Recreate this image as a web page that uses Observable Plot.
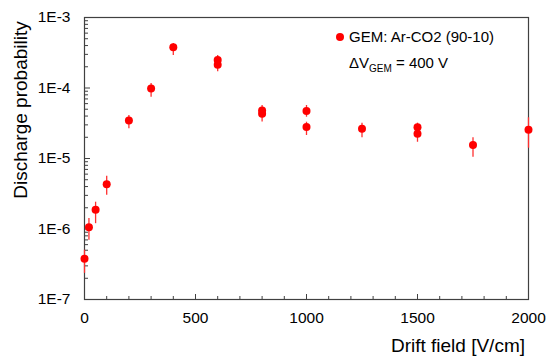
<!DOCTYPE html>
<html>
<head>
<meta charset="utf-8">
<script src="https://cdn.jsdelivr.net/npm/d3@7"></script>
<script src="https://cdn.jsdelivr.net/npm/@observablehq/plot@0.6"></script>
<style>
  html, body { margin: 0; padding: 0; background: #fff; }
  #chart { position: relative; width: 548px; height: 356px; }
  svg { font-family: "Liberation Sans", Arial, sans-serif; }
</style>
</head>
<body>
<div id="chart"></div>
<script>
// Data
const driftField = [0, 20, 50, 100, 200, 300, 400, 600, 600, 800, 800, 1000, 1000, 1250, 1500, 1500, 1750, 2000];
const dischargeProb = [3.8e-7, 1.06e-6, 1.87e-6, 4.3e-6, 3.46e-5, 9.8e-5, 3.8e-4, 2.5e-4, 2.13e-4, 4.8e-5, 4.3e-5, 4.7e-5, 2.8e-5, 2.64e-5, 2.78e-5, 2.24e-5, 1.56e-5, 2.55e-5];
const errLow = [2.35e-7, 6.9e-7, 1.19e-6, 3.0e-6, 2.64e-5, 7.4e-5, 2.9e-4, 2.2e-4, 1.7e-4, 3.9e-5, 3.3e-5, 3.85e-5, 2.12e-5, 1.97e-5, 2.2e-5, 1.7e-5, 1.04e-5, 1.4e-5];
const errHigh = [5.0e-7, 1.41e-6, 2.4e-6, 5.6e-6, 4.07e-5, 1.16e-4, 4.28e-4, 2.9e-4, 2.45e-4, 5.65e-5, 5.1e-5, 5.65e-5, 3.27e-5, 3.17e-5, 3.17e-5, 2.6e-5, 1.97e-5, 3.78e-5];

const xMajorTicks = [0, 500, 1000, 1500, 2000];
const xMinorTicks = d3.range(0, 2001, 100);
const yMajorTicks = [1e-7, 1e-6, 1e-5, 1e-4, 1e-3];
const yMinorTicks = [-7, -6, -5, -4].flatMap(e => [2,3,4,5,6,7,8,9].map(m => m * Math.pow(10, e)));

const seriesLabel = "GEM: Ar-CO2 (90-10)";
const xLabel = "Drift field [V/cm]";
const yLabel = "Discharge probability";

const data = driftField.map((x, i) => ({x, y: dischargeProb[i], lo: errLow[i], hi: errHigh[i]}));
const fmt = d => "1E" + Math.round(Math.log10(d));
const axisColor = "#404040";

const plot = Plot.plot({
  width: 548,
  height: 356,
  marginLeft: 84,
  marginRight: 20,
  marginTop: 17,
  marginBottom: 57,
  style: {fontFamily: '"Liberation Sans", Arial, sans-serif', background: "#fff", color: "#000"},
  x: {domain: [0, 2000], label: null},
  y: {type: "log", domain: [1e-7, 1e-3], label: null},
  marks: [
    Plot.frame({stroke: axisColor, strokeWidth: 1.2}),
    Plot.axisX({ticks: xMinorTicks, tickSize: -3, tickFormat: () => "", label: null, stroke: axisColor}),
    Plot.axisX({ticks: xMajorTicks, tickSize: -5, tickFormat: () => "", label: null, stroke: axisColor}),
    Plot.axisX({ticks: xMajorTicks, tickSize: 0, tickPadding: 12, tickFormat: d => String(d), fontSize: 15.5, label: null, fill: "#000"}),
    Plot.axisY({ticks: yMinorTicks, tickSize: -4, tickFormat: () => "", label: null, stroke: axisColor}),
    Plot.axisY({ticks: yMajorTicks, tickSize: -6, tickFormat: () => "", label: null, stroke: axisColor}),
    Plot.axisY({ticks: yMajorTicks, tickSize: 0, tickPadding: 14, tickFormat: fmt, fontSize: 15.5, label: null, fill: "#000"}),
    Plot.ruleX(data, {x: "x", y1: "lo", y2: "hi", stroke: "#ff3030", strokeWidth: 1.3}),
    Plot.dot(data, {x: "x", y: "y", r: 4, fill: "#ff0000", stroke: "none"})
  ]
});

document.getElementById("chart").appendChild(plot);

const svg = d3.select(plot);
// Axis titles
svg.append("text")
  .attr("transform", "translate(27,110) rotate(-90)")
  .attr("text-anchor", "middle")
  .attr("font-size", 19)
  .attr("fill", "#000")
  .text(yLabel);
svg.append("text")
  .attr("x", 525).attr("y", 352)
  .attr("text-anchor", "end")
  .attr("font-size", 19)
  .attr("fill", "#000")
  .text(xLabel);

// Legend
svg.append("circle").attr("cx", 340).attr("cy", 37).attr("r", 4).attr("fill", "#ff0000");
svg.append("text").attr("x", 349).attr("y", 42).attr("text-anchor", "start").attr("font-size", 15).attr("fill", "#000").text(seriesLabel);
const t2 = svg.append("text").attr("x", 349).attr("y", 68).attr("text-anchor", "start").attr("font-size", 15).attr("fill", "#000");
t2.append("tspan").text("\u0394V");
t2.append("tspan").attr("font-size", 10).attr("dy", 4).text("GEM");
t2.append("tspan").attr("dy", -4).text(" = 400 V");
</script>
</body>
</html>
